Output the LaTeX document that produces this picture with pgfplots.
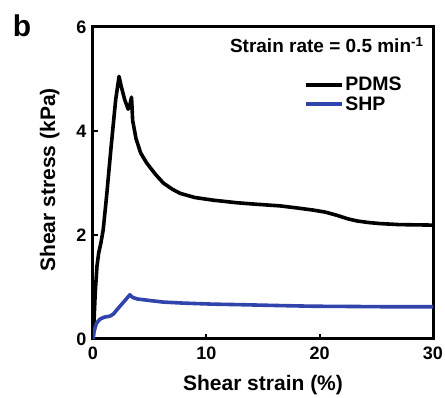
\documentclass[border=0pt]{standalone}
\usepackage{pgfplots}
\pgfplotsset{compat=1.18}
\usepackage{fontspec}
\setmainfont{Liberation Sans}
\definecolor{shpblue}{RGB}{48,68,172}
\begin{document}
\begin{tikzpicture}[x=1pt,y=1pt]
\path[use as bounding box] (0,0) rectangle (445,398);
\node[font=\bfseries\fontsize{30}{32}\selectfont, anchor=center] at (22,372) {b};
\begin{axis}[
  at={(93pt,59pt)}, anchor=south west,
  scale only axis, width=340pt, height=312pt,
  xmin=0, xmax=30, ymin=0, ymax=6,
  xtick={0,10,20,30}, ytick={0,2,4,6},
  tick align=inside, xtick pos=left, ytick pos=left,
  major tick length=5pt,
  axis line style={line width=3pt},
  every tick/.style={line width=2pt, black},
  tick label style={font=\bfseries\fontsize{18}{20}\selectfont},
  xticklabel style={yshift=-4pt},
  yticklabel style={xshift=-3pt},
  /pgf/number format/assume math mode=true,
  xlabel={Shear strain (\%)}, ylabel={Shear stress (kPa)},
  label style={font=\bfseries\fontsize{21}{23}\selectfont},
  xlabel style={at={(axis description cs:0.5,-0.148)}, anchor=center},
  ylabel style={at={(axis description cs:-0.127,0.51)}, anchor=center},
  legend style={draw=none, fill=none, at={(0.62,0.845)}, anchor=north west,
    font=\bfseries\fontsize{19.5}{22}\selectfont, row sep=0pt,
    inner sep=0pt, outer sep=0pt},
  legend cell align=left,
  legend image code/.code={\draw[#1] (0pt,0pt) -- (36pt,0pt);},
]
\addplot[black, line width=3.6pt, line join=round] coordinates {
(0,0) (0.1,0.4) (0.2,0.9) (0.35,1.4) (0.5,1.65) (0.7,1.85) (0.9,2.1) (1.2,2.75)
(1.6,3.7) (2.0,4.6) (2.3,5.05) (2.5,4.85) (2.8,4.6) (3.1,4.42) (3.25,4.5) (3.4,4.65)
(3.5,4.2) (3.8,3.85) (4.2,3.58) (4.75,3.38) (5.5,3.17) (6.2,3.0) (7.0,2.88) (7.7,2.8)
(9.0,2.72) (10.6,2.67) (12.7,2.62) (14.5,2.59) (16.5,2.56) (18.0,2.52) (19.4,2.48)
(20.5,2.44) (21.5,2.38) (22.5,2.31) (23.3,2.27) (24.3,2.24) (25.3,2.22) (27,2.2) (30,2.19)
};
\addlegendentry{PDMS}
\addplot[shpblue, line width=3.6pt, line join=round] coordinates {
(0,0) (0.1,0.15) (0.3,0.3) (0.6,0.38) (1.0,0.42) (1.5,0.44) (1.8,0.48) (2.1,0.56)
(2.5,0.66) (2.9,0.76) (3.25,0.85) (3.5,0.8) (3.9,0.77) (5,0.74) (6.2,0.71) (8,0.69)
(10.6,0.67) (13,0.66) (16,0.645) (19.4,0.63) (23,0.625) (26,0.62) (30,0.62)
};
\addlegendentry{SHP}
\end{axis}
\node[font=\bfseries\fontsize{19}{21}\selectfont, anchor=east] at (427,353) {Strain rate = 0.5 min\textsuperscript{-1}};
\end{tikzpicture}
\end{document}
